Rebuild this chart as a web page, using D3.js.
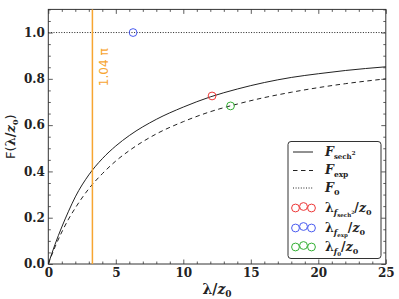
<!DOCTYPE html>
<html>
<head>
<meta charset="utf-8">
<script src="https://cdn.jsdelivr.net/npm/d3@7"></script>
<style>
  body { margin: 0; background: #fff; }
  svg { display: block; }
</style>
</head>
<body>
<svg width="399" height="299"></svg>
<script>
// values
const lambdaGrid = [0, 0.5, 1, 1.5, 2, 3, 4, 5, 6, 8, 10, 12, 14, 16, 18, 20, 22, 25];
const fSech2 = [0, 0.085, 0.160, 0.228, 0.290, 0.385, 0.455, 0.510, 0.555, 0.625, 0.678, 0.722, 0.756, 0.784, 0.806, 0.822, 0.836, 0.852];
const fExp   = [0, 0.074, 0.138, 0.194, 0.242, 0.325, 0.390, 0.445, 0.490, 0.562, 0.615, 0.658, 0.691, 0.719, 0.742, 0.762, 0.779, 0.800];
const f0Level = 1.0;
const piLine = 1.04 * Math.PI;

const markerNames = ["sech2", "exp", "f0"];
const markerLambda = [12.13, 6.28, 13.5];
const markerF = [0.726, 1.0, 0.683];
const markerColors = ["#ee3838", "#4a5cf0", "#34b034"];

const xTicks = [0, 5, 10, 15, 20, 25];
const yTicks = [0.0, 0.2, 0.4, 0.6, 0.8, 1.0];

// layout
const svg = d3.select("svg");
const plotLeft = 48.3, plotRight = 385.8, plotTop = 9.4, plotBottom = 264;
const serif = "'DejaVu Serif', serif";

const x = d3.scaleLinear().domain([0, 25]).range([plotLeft, plotRight]);
const y = d3.scaleLinear().domain([0, 1.1]).range([plotBottom, plotTop]);

// minor ticks
const xMinor = d3.range(0, 25.01, 1).filter(v => v % 5 !== 0);
const yMinor = d3.range(0, 1.101, 0.05).filter(v => Math.abs(v * 5 - Math.round(v * 5)) > 1e-6);

function styleAxis(g) {
  g.select(".domain").remove();
  g.selectAll("line").attr("stroke", "#333").attr("stroke-width", 0.8);
  g.selectAll("text")
    .attr("fill", "#222")
    .style("font-family", serif)
    .style("font-weight", "bold")
    .style("font-size", "12px");
}

// bottom axis with labels
svg.append("g")
    .attr("transform", `translate(0,${plotBottom})`)
    .call(d3.axisBottom(x).tickValues(xTicks).tickFormat(d3.format("d"))
      .tickSizeInner(-4.5).tickSizeOuter(0).tickPadding(4))
    .call(styleAxis);
svg.append("g")
    .attr("transform", `translate(0,${plotBottom})`)
    .call(d3.axisBottom(x).tickValues(xMinor).tickFormat("").tickSizeInner(-2.5).tickSizeOuter(0))
    .call(styleAxis);
// top mirror
svg.append("g")
    .attr("transform", `translate(0,${plotTop})`)
    .call(d3.axisTop(x).tickValues(xTicks).tickFormat("").tickSizeInner(-4.5).tickSizeOuter(0))
    .call(styleAxis);
svg.append("g")
    .attr("transform", `translate(0,${plotTop})`)
    .call(d3.axisTop(x).tickValues(xMinor).tickFormat("").tickSizeInner(-2.5).tickSizeOuter(0))
    .call(styleAxis);

// left axis with labels
svg.append("g")
    .attr("transform", `translate(${plotLeft},0)`)
    .call(d3.axisLeft(y).tickValues(yTicks).tickFormat(d3.format(".1f"))
      .tickSizeInner(-4.5).tickSizeOuter(0).tickPadding(3.5))
    .call(styleAxis);
svg.append("g")
    .attr("transform", `translate(${plotLeft},0)`)
    .call(d3.axisLeft(y).tickValues(yMinor).tickFormat("").tickSizeInner(-2.5).tickSizeOuter(0))
    .call(styleAxis);
// right mirror
svg.append("g")
    .attr("transform", `translate(${plotRight},0)`)
    .call(d3.axisRight(y).tickValues(yTicks).tickFormat("").tickSizeInner(-4.5).tickSizeOuter(0))
    .call(styleAxis);
svg.append("g")
    .attr("transform", `translate(${plotRight},0)`)
    .call(d3.axisRight(y).tickValues(yMinor).tickFormat("").tickSizeInner(-2.5).tickSizeOuter(0))
    .call(styleAxis);

// frame
svg.append("rect")
    .attr("x", plotLeft).attr("y", plotTop)
    .attr("width", plotRight - plotLeft).attr("height", plotBottom - plotTop)
    .attr("fill", "none").attr("stroke", "#333").attr("stroke-width", 1);

// curves
const line = d3.line()
    .x(d => x(d[0]))
    .y(d => y(d[1]))
    .curve(d3.curveMonotoneX);

svg.append("path")
    .datum(lambdaGrid.map((l, i) => [l, fSech2[i]]))
    .attr("d", line)
    .attr("fill", "none").attr("stroke", "#222").attr("stroke-width", 1);

svg.append("path")
    .datum(lambdaGrid.map((l, i) => [l, fExp[i]]))
    .attr("d", line)
    .attr("fill", "none").attr("stroke", "#222").attr("stroke-width", 1)
    .attr("stroke-dasharray", "4.5,3.5");

svg.append("line")
    .attr("x1", x(0)).attr("x2", x(25))
    .attr("y1", y(f0Level)).attr("y2", y(f0Level))
    .attr("stroke", "#222").attr("stroke-width", 1)
    .attr("stroke-dasharray", "1,1.6");

// orange vertical line and label
svg.append("line")
    .attr("x1", x(piLine)).attr("x2", x(piLine))
    .attr("y1", y(1.1)).attr("y2", y(0))
    .attr("stroke", "#f7a531").attr("stroke-width", 1.5);

svg.append("text")
    .text("1.04 π")
    .attr("transform", `translate(${x(piLine) + 16},${y(0.85)}) rotate(-90)`)
    .style("text-anchor", "middle")
    .style("font-family", "'DejaVu Sans', sans-serif")
    .style("font-size", "12px")
    .attr("fill", "#f7a531");

// markers
svg.selectAll("circle.mark")
  .data(markerNames)
  .enter()
  .append("circle")
    .attr("class", "mark")
    .attr("cx", (d, i) => x(markerLambda[i]))
    .attr("cy", (d, i) => y(markerF[i]))
    .attr("r", 3.9)
    .attr("fill", "none")
    .attr("stroke", (d, i) => markerColors[i])
    .attr("stroke-width", 1);

// rich text helper: pieces of [text, size, dy, italic]
function rich(sel, pieces) {
  pieces.forEach(p => {
    sel.append("tspan")
      .text(p[0])
      .attr("dy", p[2] || 0)
      .style("font-size", p[1] + "px")
      .style("font-style", p[3] ? "italic" : "normal");
  });
}

// axis labels
const xl = svg.append("text")
    .attr("x", (plotLeft + plotRight) / 2)
    .attr("y", 294)
    .style("text-anchor", "middle")
    .style("font-family", serif)
    .style("font-weight", "bold")
    .attr("fill", "#222");
rich(xl, [["λ", 14], ["/", 14], ["z", 14, 0, true], ["0", 9, 3]]);

const yl = svg.append("text")
    .attr("transform", `translate(15,${(plotTop + plotBottom) / 2}) rotate(-90)`)
    .style("text-anchor", "middle")
    .attr("fill", "#222");
yl.append("tspan").text("F(").style("font-family", "'DejaVu Sans', sans-serif").style("font-size", "13px");
const ym = yl.append("tspan").style("font-family", serif).style("font-weight", "bold");
rich(ym, [["λ", 13], ["/", 13], ["z", 13, 0, true], ["0", 8, 3]]);
yl.append("tspan").text(")").attr("dy", -3)
    .style("font-family", "'DejaVu Sans', sans-serif").style("font-size", "13px");

// legend
const lg = svg.append("g");
lg.append("rect")
    .attr("x", 288).attr("y", 141.5)
    .attr("width", 93).attr("height", 117)
    .attr("rx", 3)
    .attr("fill", "#fff").attr("stroke", "#333").attr("stroke-width", 1);

const rowY = [152, 170.5, 188, 208, 228, 247];
const sampleStyles = ["none", "4.5,3.5", "1,1.6"];
sampleStyles.forEach((dash, i) => {
  lg.append("line")
    .attr("x1", 293).attr("x2", 313)
    .attr("y1", rowY[i]).attr("y2", rowY[i])
    .attr("stroke", "#222").attr("stroke-width", 1)
    .attr("stroke-dasharray", dash);
});
markerColors.forEach((c, i) => {
  [[295.5, 0], [303.5, -1.5], [311.5, 0]].forEach(o => {
    lg.append("circle")
      .attr("cx", o[0]).attr("cy", rowY[i + 3] + o[1])
      .attr("r", 3.9)
      .attr("fill", "none").attr("stroke", c).attr("stroke-width", 1);
  });
});

const legendPieces = [
  [["F", 12.5, 0, true], ["sech", 7, 3], ["2", 5.5, -3.5]],
  [["F", 12.5, 0, true], ["exp", 7.5, 3]],
  [["F", 12.5, 0, true], ["0", 8, 3]],
  [["λ", 12.5], ["f", 8, 3, true], ["sech", 5.5, 2], ["2", 4.5, -3], ["/", 12.5, -2], ["z", 12.5, 0, true], ["0", 8, 3]],
  [["λ", 12.5], ["f", 8, 3, true], ["exp", 5.5, 2], ["/", 12.5, -5], ["z", 12.5, 0, true], ["0", 8, 3]],
  [["λ", 12.5], ["f", 8, 3, true], ["0", 5.5, 2], ["/", 12.5, -5], ["z", 12.5, 0, true], ["0", 8, 3]]
];
legendPieces.forEach((pieces, i) => {
  const t = lg.append("text")
    .attr("x", 325).attr("y", rowY[i] + 3.5)
    .style("font-family", serif)
    .style("font-weight", "bold")
    .attr("fill", "#222");
  rich(t, pieces);
});
</script>
</body>
</html>
